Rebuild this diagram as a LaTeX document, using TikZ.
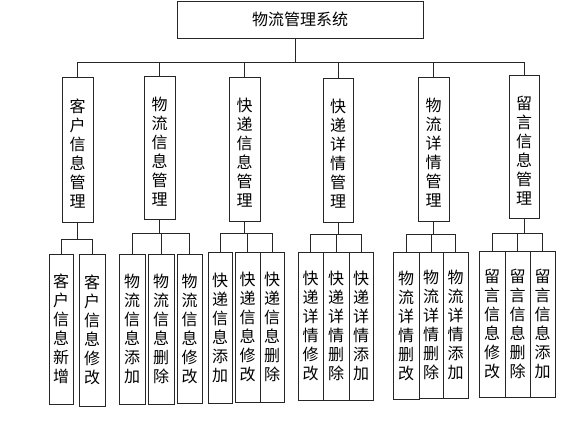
\documentclass[tikz,border=0pt]{standalone}
\usepackage{fontspec}
\setmainfont{Noto Sans CJK SC}
\begin{document}
\begin{tikzpicture}[x=1pt,y=-1pt,
  box/.style={draw=black!85,line width=0.9pt,inner sep=0pt,align=center,
    font=\fontsize{16}{19}\selectfont},
  link/.style={draw=black!85,line width=0.9pt}]
\useasboundingbox[fill=white] (0,0) rectangle (587,447);
% top
\node[box,minimum width=246,minimum height=37] (top) at (300,19.5) {物流管理系统};
% level 1
\node[box,minimum width=31,minimum height=145] (p1) at (77.5,149.5) {\\[2pt]客\\户\\信\\息\\管\\理};
\node[box,minimum width=31,minimum height=143] (p2) at (159.5,147.5) {\\[2pt]物\\流\\信\\息\\管\\理};
\node[box,minimum width=31,minimum height=144] (p3) at (244.5,149) {\\[2pt]快\\递\\信\\息\\管\\理};
\node[box,minimum width=30,minimum height=144] (p4) at (338,150) {\\[2pt]快\\递\\详\\情\\管\\理};
\node[box,minimum width=31,minimum height=144] (p5) at (433.5,149) {\\[2pt]物\\流\\详\\情\\管\\理};
\node[box,minimum width=30,minimum height=143] (p6) at (524,146.5) {\\[2pt]留\\言\\信\\息\\管\\理};
% level 2
\node[box,minimum width=24,minimum height=150] (c11) at (61,329) {客\\户\\信\\息\\新\\增};
\node[box,minimum width=26,minimum height=152] (c12) at (92,330) {客\\户\\信\\息\\修\\改};
\node[box,minimum width=26,minimum height=150] (c21) at (132,329) {物\\流\\信\\息\\添\\加};
\node[box,minimum width=26,minimum height=150] (c22) at (161,329) {物\\流\\信\\息\\删\\除};
\node[box,minimum width=25,minimum height=149] (c23) at (189.5,328.5) {物\\流\\信\\息\\修\\改};
\node[box,minimum width=24,minimum height=151] (c31) at (220,327.5) {快\\递\\信\\息\\添\\加};
\node[box,minimum width=25,minimum height=150] (c32) at (247.5,327) {快\\递\\信\\息\\修\\改};
\node[box,minimum width=24,minimum height=150] (c33) at (272,327) {快\\递\\信\\息\\删\\除};
\node[box,minimum width=25,minimum height=148] (c41) at (310.5,326) {快\\递\\详\\情\\修\\改};
\node[box,minimum width=26,minimum height=148] (c42) at (336,326) {快\\递\\详\\情\\删\\除};
\node[box,minimum width=24,minimum height=148] (c43) at (361,326) {快\\递\\详\\情\\添\\加};
\node[box,minimum width=26,minimum height=147] (c51) at (406,325.5) {物\\流\\详\\情\\删\\改};
\node[box,minimum width=24,minimum height=146] (c52) at (431,325) {物\\流\\详\\情\\删\\除};
\node[box,minimum width=25,minimum height=146] (c53) at (455.5,325) {物\\流\\详\\情\\添\\加};
\node[box,minimum width=26,minimum height=146] (c61) at (492,324) {留\\言\\信\\息\\修\\改};
\node[box,minimum width=25,minimum height=146] (c62) at (517.5,324) {留\\言\\信\\息\\删\\除};
\node[box,minimum width=25,minimum height=146] (c63) at (542.5,324) {留\\言\\信\\息\\添\\加};
% top bus
\coordinate (b0) at (295,62);
\draw[link] (top.south -| b0) -- (b0);
\draw[link] (p1.north) -- (p1.north |- b0) -- (p6.north |- b0) -- (p6.north);
\foreach \n in {p2,p3,p4,p5} \draw[link] (\n.north) -- (\n.north |- b0);
% group buses
\coordinate (b1) at (0,239);
\coordinate (b2) at (0,233);
\coordinate (b3) at (0,233);
\coordinate (b4) at (0,234);
\coordinate (b5) at (0,234);
\coordinate (b6) at (0,233);
\draw[link] (p1.south) -- (p1.south |- b1);
\draw[link] (c11.north) -- (c11.north |- b1) -- (c12.north |- b1) -- (c12.north);
\foreach \g/\a/\m/\z in {2/c21/c22/c23,3/c31/c32/c33,4/c41/c42/c43,5/c51/c52/c53,6/c61/c62/c63}{
  \draw[link] (p\g.south) -- (p\g.south |- b\g);
  \draw[link] (\a.north) -- (\a.north |- b\g) -- (\z.north |- b\g) -- (\z.north);
  \draw[link] (\m.north) -- (\m.north |- b\g);
}
\end{tikzpicture}
\end{document}
